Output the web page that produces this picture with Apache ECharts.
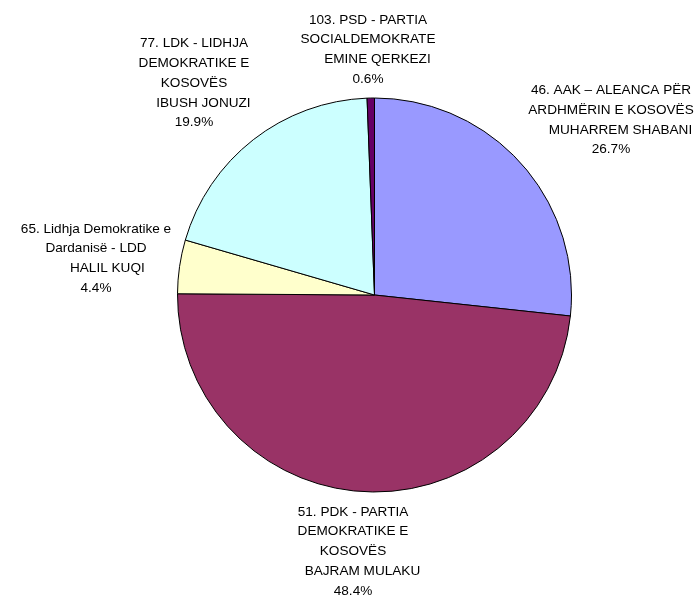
<!DOCTYPE html>
<html><head><meta charset="utf-8">
<script src="https://cdn.jsdelivr.net/npm/echarts@6/dist/echarts.min.js"></script>
<style>html,body{margin:0;padding:0;background:#fff}#c{width:697px;height:595px}</style>
</head><body><div id="c"></div>
<script>
var names = [
  "46. AAK – ALEANCA PËR\nARDHMËRIN E KOSOVËS\n     MUHARREM SHABANI",
  "51. PDK - PARTIA\nDEMOKRATIKE E\nKOSOVËS\n     BAJRAM MULAKU",
  "65. Lidhja Demokratike e\nDardanisë - LDD\n      HALIL KUQI",
  "77. LDK - LIDHJA\nDEMOKRATIKE E\nKOSOVËS\n     IBUSH JONUZI",
  "103. PSD - PARTIA\nSOCIALDEMOKRATE\n     EMINE QERKEZI"
];
var values = [26.7, 48.4, 4.4, 19.9, 0.6];
var colors = ["#9999FF", "#993366", "#FFFFCC", "#CCFFFF", "#660066"];
var labelPos = [[611, 120], [353, 551.5], [96, 258.5], [194, 83], [368, 49.5]];

var chart = echarts.init(document.getElementById('c'));
chart.setOption({
  animation: false,
  series: [{
    type: 'pie',
    center: [374.5, 295],
    radius: 197,
    startAngle: 90,
    clockwise: true,
    avoidLabelOverlap: false,
    itemStyle: { borderColor: '#000', borderWidth: 1 },
    label: {
      show: true,
      position: 'center',
      formatter: function (p) {
        var lines = p.name.split('\n');
        lines.push(p.percent.toFixed(1) + '%');
        return lines.map(function (l) { return '{c|' + l + '}'; }).join('\n');
      },
      fontFamily: 'Liberation Sans, Arial, sans-serif',
      fontSize: 13.6,
      color: '#000',
      lineHeight: 19.8,
      rich: {
        c: {
          width: 200,
          align: 'center',
          fontFamily: 'Liberation Sans, Arial, sans-serif',
          fontSize: 13.6,
          color: '#000',
          lineHeight: 19.8
        }
      }
    },
    labelLine: { show: false },
    labelLayout: function (params) {
      var p = labelPos[params.dataIndex];
      return { x: p[0], y: p[1], align: 'center', verticalAlign: 'middle' };
    },
    emphasis: { disabled: true },
    data: names.map(function (n, i) {
      return { name: n, value: values[i], itemStyle: { color: colors[i] } };
    })
  }]
});
</script></body></html>
